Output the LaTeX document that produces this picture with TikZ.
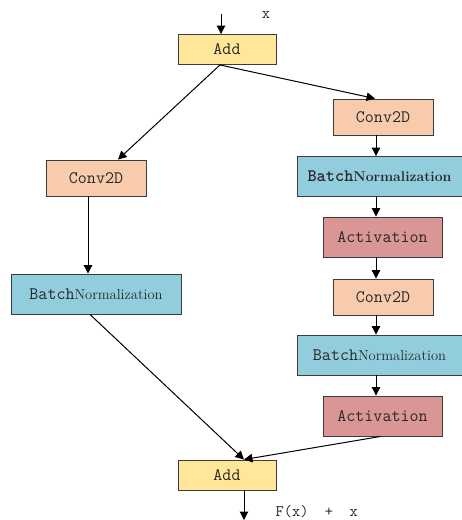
\documentclass[tikz,border=0pt]{standalone}
\usepackage{fontspec}
\usetikzlibrary{arrows.meta}
\definecolor{addc}{RGB}{255,230,153}
\definecolor{convc}{RGB}{248,203,173}
\definecolor{bnc}{RGB}{146,205,221}
\definecolor{actc}{RGB}{218,150,148}
\definecolor{edgec}{RGB}{60,60,60}
\definecolor{txtc}{RGB}{40,40,40}
\tikzset{
  blk/.style={draw=edgec, line width=0.9pt, inner sep=0pt, text=txtc, font=\ttfamily\fontsize{17.5}{19}\selectfont},
  addbox/.style={blk, fill=addc, minimum width=98pt, minimum height=30pt},
  convbox/.style={blk, fill=convc, minimum width=100pt, minimum height=36pt},
  bnbox/.style={blk, fill=bnc, minimum height=40pt},
  actbox/.style={blk, fill=actc, minimum width=119pt, minimum height=40pt},
  conn/.style={line width=1pt, -{Triangle[length=8.5pt,width=8.5pt]}},
  lbl/.style={text=txtc, font=\ttfamily\fontsize{16}{18}\selectfont}
}
\newcommand{\normtxt}{{\rmfamily\fontsize{14.5}{16}\selectfont Normalization}}
\newcommand{\normbold}{{\rmfamily\bfseries\fontsize{14}{16}\selectfont Normalization}}
\begin{document}
\begin{tikzpicture}[x=1pt,y=-1pt]
\useasboundingbox (0,0) rectangle (462,520);
% nodes
\node[addbox] (add1) at (227,49.5) {Add};
\node[convbox] (convL) at (96,178) {Conv2D};
\node[bnbox, minimum width=170pt] (bnL) at (96,294) {Batch\normtxt};
\node[convbox] (convR1) at (383,117) {Conv2D};
\node[bnbox, minimum width=165pt] (bnR1) at (379.5,176.5) {{\bfseries Batch}\normbold};
\node[actbox] (actR1) at (382.5,237) {Activation};
\node[convbox] (convR2) at (383,297) {Conv2D};
\node[bnbox, minimum width=165pt] (bnR2) at (379.5,355) {Batch\normtxt};
\node[actbox] (actR2) at (382.5,416) {Activation};
\node[addbox] (add2) at (227,475) {Add};
\coordinate (in) at (221,14);
\coordinate (out) at (244,520);
\node[lbl] (xlbl) at (266,15) {x};
\node[lbl, anchor=west] (flbl) at (272,512) {F(x)\ \ +\ \ x};
% connectors
\draw[conn] (in) -- (in |- add1.north);
\draw[conn] ([xshift=-7pt]add1.south) -- ([xshift=22pt]convL.north);
\draw[conn] ([xshift=-7pt]add1.south) -- ([xshift=-8pt]convR1.north);
\draw[conn] ([xshift=-8pt]convL.south) -- ([xshift=-8pt]convL.south |- bnL.north);
\draw[conn] ([xshift=-7pt]convR1.south) -- ([xshift=-7pt]convR1.south |- bnR1.north);
\draw[conn] ([xshift=-7pt]convR1.south |- bnR1.south) -- ([xshift=-7pt]convR1.south |- actR1.north);
\draw[conn] ([xshift=-7pt]convR1.south |- actR1.south) -- ([xshift=-7pt]convR1.south |- convR2.north);
\draw[conn] ([xshift=-7pt]convR2.south) -- ([xshift=-7pt]convR2.south |- bnR2.north);
\draw[conn] ([xshift=-7pt]convR2.south |- bnR2.south) -- ([xshift=-7pt]convR2.south |- actR2.north);
\draw[conn] ([xshift=-6pt]bnL.south) -- ([xshift=17pt]add2.north);
\draw[conn] ([xshift=-2pt]actR2.south) -- ([xshift=17pt]add2.north);
\draw[conn] (out |- add2.south) -- (out);
\end{tikzpicture}
\end{document}
